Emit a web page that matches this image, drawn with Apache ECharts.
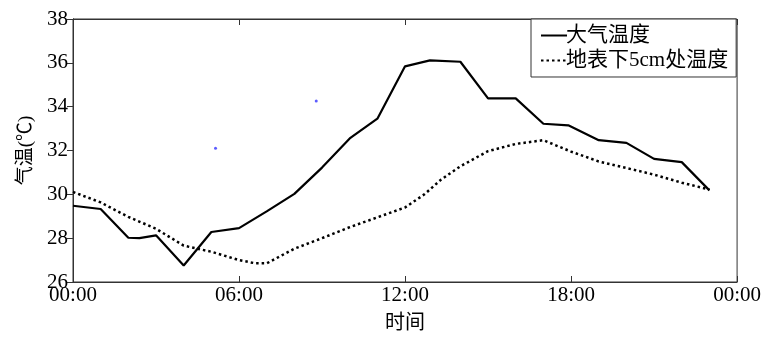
<!DOCTYPE html>
<html>
<head>
<meta charset="utf-8">
<script src="https://cdn.jsdelivr.net/npm/echarts@6/dist/echarts.min.js"></script>
<style>
  html, body { margin: 0; padding: 0; background: #fff; }
  #chart { width: 764px; height: 339px; }
</style>
</head>
<body>
<div id="chart"></div>
<script>
// 时间(小时) 与温度读数
const airHours = [0, 1, 2, 2.4, 3, 4, 5, 6, 7, 8, 9, 10, 11, 12, 12.9, 14, 15, 16, 17, 17.9, 19, 20, 21, 22, 23];
const airTemp = [29.48, 29.33, 28.02, 28.0, 28.13, 26.75, 28.28, 28.46, 29.22, 30.02, 31.22, 32.55, 33.45, 35.84, 36.11, 36.05, 34.38, 34.38, 33.22, 33.15, 32.47, 32.35, 31.62, 31.47, 30.18];
const soilHours = [0, 1, 2, 3, 4, 5, 6, 6.6, 7, 8, 9, 10, 11, 12, 12.7, 13.3, 14, 15, 16, 17, 18, 19, 20, 21, 22, 23];
const soilTemp = [30.11, 29.63, 28.97, 28.43, 27.66, 27.38, 27.0, 26.85, 26.85, 27.52, 28.0, 28.5, 28.95, 29.4, 30.0, 30.67, 31.28, 31.97, 32.3, 32.47, 31.95, 31.5, 31.2, 30.9, 30.53, 30.22];
const markHours = [5.15, 8.79];
const markTemp = [32.1, 34.26];
const xTicks = ["00:00", "06:00", "12:00", "18:00", "00:00"];
const seriesNames = ["大气温度", "地表下5cm处温度"];

const font = "'Liberation Serif', 'Noto Sans CJK SC', serif";
const pairs = (xs, ys) => xs.map((x, i) => [x, ys[i]]);

const chart = echarts.init(document.getElementById("chart"));
chart.setOption({
  animation: false,
  textStyle: { fontFamily: font },
  grid: { left: 73, right: 25, top: 19, bottom: 53, show: true, borderColor: "#333", borderWidth: 1 },
  legend: {
    data: seriesNames,
    orient: "vertical",
    left: 531, top: 19,
    padding: [6, 8, 6, 9],
    itemGap: 4,
    itemWidth: 26, itemHeight: 14,
    borderColor: "#333", borderWidth: 1,
    backgroundColor: "#fff",
    itemStyle: { opacity: 0 },
    textStyle: { fontFamily: font, fontSize: 21, color: "#000", padding: [0, 0, 0, -6] }
  },
  xAxis: [
    {
      type: "value", min: 0, max: 24, interval: 6,
      name: "时间", nameLocation: "middle", nameGap: 32,
      nameTextStyle: { fontFamily: font, fontSize: 20, color: "#000" },
      axisLine: { lineStyle: { color: "#333" } },
      axisTick: { inside: true, length: 6, lineStyle: { color: "#333" } },
      axisLabel: { fontSize: 21, color: "#000", margin: 3, formatter: (v) => xTicks[v / 6] },
      splitLine: { show: false }
    },
    {
      type: "value", min: 0, max: 24, interval: 6, position: "top",
      axisLine: { lineStyle: { color: "#333" } },
      axisTick: { inside: true, length: 6, lineStyle: { color: "#333" } },
      axisLabel: { show: false }, splitLine: { show: false }
    }
  ],
  yAxis: [
    {
      type: "value", min: 26, max: 38, interval: 2,
      name: "气温(℃)", nameLocation: "middle", nameGap: 37,
      nameTextStyle: { fontFamily: font, fontSize: 19, color: "#000" },
      axisLine: { show: true, lineStyle: { color: "#333" } },
      axisTick: { show: false },
      axisLabel: { fontSize: 21, color: "#000", margin: 5 },
      splitLine: { show: false }
    },
    {
      type: "value", min: 26, max: 38, interval: 2, position: "right",
      axisLine: { show: true, lineStyle: { color: "#333" } },
      axisTick: { show: true, inside: true, length: 6, lineStyle: { color: "#333" } },
      axisLabel: { show: false }, splitLine: { show: false }
    }
  ],
  series: [
    {
      name: seriesNames[0], type: "line", symbol: "none",
      data: pairs(airHours, airTemp),
      lineStyle: { color: "#000", width: 2.2 },
      itemStyle: { color: "#000" }
    },
    {
      name: seriesNames[1], type: "line", symbol: "none",
      data: pairs(soilHours, soilTemp),
      lineStyle: { color: "#000", width: 2.5, type: [2.5, 3] },
      itemStyle: { color: "#000" }
    },
    {
      name: "marks", type: "scatter", symbol: "circle", symbolSize: 3,
      data: pairs(markHours, markTemp),
      itemStyle: { color: "#3333ff" }
    }
  ]
});
</script>
</body>
</html>
